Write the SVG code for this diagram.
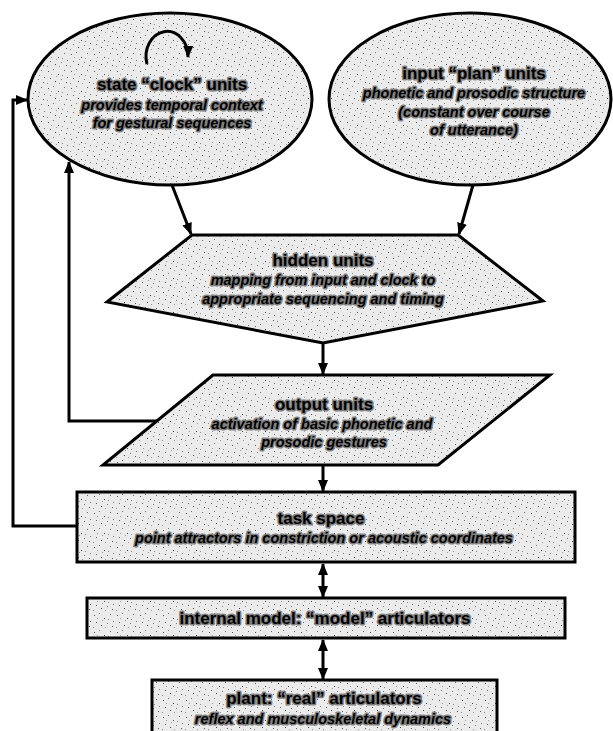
<svg xmlns="http://www.w3.org/2000/svg" width="613" height="731" viewBox="0 0 613 731">
<style>
.shape{fill:url(#speckle);stroke:#000;stroke-width:3}
.t{font-family:"Liberation Sans",Arial,sans-serif;font-weight:bold;text-anchor:middle;fill:#000;stroke:#808080;stroke-width:3;stroke-linejoin:round;paint-order:stroke}
.h{font-size:17px}
.s{font-size:14.5px;font-style:italic}
.c{fill:none;stroke:#000;stroke-width:3}
</style>
<defs>
<pattern id="speckle" width="23" height="17" patternUnits="userSpaceOnUse">
<rect width="23" height="17" fill="#ebebeb"/>
<rect x="2" y="3" width="1" height="1" fill="#555"/>
<rect x="7" y="1" width="1" height="1" fill="#777"/>
<rect x="12" y="6" width="1" height="1" fill="#444"/>
<rect x="18" y="2" width="1" height="1" fill="#666"/>
<rect x="4" y="10" width="1" height="1" fill="#666"/>
<rect x="9" y="13" width="1" height="1" fill="#444"/>
<rect x="15" y="11" width="1" height="1" fill="#777"/>
<rect x="20" y="14" width="1" height="1" fill="#555"/>
<rect x="1" y="15" width="1" height="1" fill="#888"/>
<rect x="16" y="7" width="1" height="1" fill="#888"/>
<rect x="10" y="8" width="1" height="1" fill="#999"/>
<rect x="21" y="9" width="1" height="1" fill="#777"/>
<rect x="5" y="6" width="1" height="1" fill="#999"/>
<rect x="13" y="15" width="1" height="1" fill="#999"/>
</pattern>
<marker id="ah" viewBox="0 0 12 10" refX="11" refY="5" markerWidth="12" markerHeight="10" markerUnits="userSpaceOnUse" orient="auto-start-reverse">
<path d="M0,0 L12,5 L0,10 z" fill="#000"/>
</marker>
</defs>

<g id="connectors">
<line class="c" x1="172" y1="185" x2="191" y2="234" marker-end="url(#ah)"/>
<line class="c" x1="473" y1="185" x2="459" y2="234" marker-end="url(#ah)"/>
<line class="c" x1="323" y1="344" x2="323" y2="374" marker-end="url(#ah)"/>
<line class="c" x1="323" y1="466" x2="323" y2="491" marker-end="url(#ah)"/>
<line class="c" x1="323" y1="564" x2="323" y2="597" marker-start="url(#ah)" marker-end="url(#ah)"/>
<line class="c" x1="323" y1="640" x2="323" y2="679" marker-start="url(#ah)" marker-end="url(#ah)"/>
<polyline class="c" points="157,421 69,421 69,162" marker-end="url(#ah)"/>
<polyline class="c" points="77,526 13,526 13,100 27,100" marker-end="url(#ah)"/>
</g>

<g id="clock">
<ellipse class="shape" cx="170" cy="99" rx="142" ry="86"/>
<path class="c" d="M147,64 A21,25 0 1 1 188,57" marker-end="url(#ah)"/>
<text class="t h" x="172" y="90">state “clock” units</text>
<text class="t s" x="172" y="110">provides temporal context</text>
<text class="t s" x="172" y="128">for gestural sequences</text>
</g>

<g id="plan">
<ellipse class="shape" cx="470" cy="99" rx="141" ry="86"/>
<text class="t h" x="474" y="79">input “plan” units</text>
<text class="t s" x="474" y="98">phonetic and prosodic structure</text>
<text class="t s" x="474" y="117">(constant over course</text>
<text class="t s" x="474" y="135">of utterance)</text>
</g>

<g id="hidden">
<polygon class="shape" points="192,235 458,235 543,301 323,343 107,302"/>
<text class="t h" x="323" y="266">hidden units</text>
<text class="t s" x="323" y="285">mapping from input and clock to</text>
<text class="t s" x="323" y="304">appropriate sequencing and timing</text>
</g>

<g id="output">
<polygon class="shape" points="213,375 550,375 438,465 103,465"/>
<text class="t h" x="324" y="410">output units</text>
<text class="t s" x="322" y="429">activation of basic phonetic and</text>
<text class="t s" x="324" y="447">prosodic gestures</text>
</g>

<g id="task">
<rect class="shape" x="77" y="492" width="498" height="70"/>
<text class="t h" x="321" y="524">task space</text>
<text class="t s" x="324" y="543">point attractors in constriction or acoustic coordinates</text>
</g>

<g id="internal">
<rect class="shape" x="87" y="598" width="478" height="40"/>
<text class="t h" x="325" y="624">internal model: “model” articulators</text>
</g>

<g id="plant">
<rect class="shape" x="152" y="680" width="345" height="60"/>
<text class="t h" x="324" y="704">plant: “real” articulators</text>
<text class="t s" x="323" y="724">reflex and musculoskeletal dynamics</text>
</g>
</svg>
